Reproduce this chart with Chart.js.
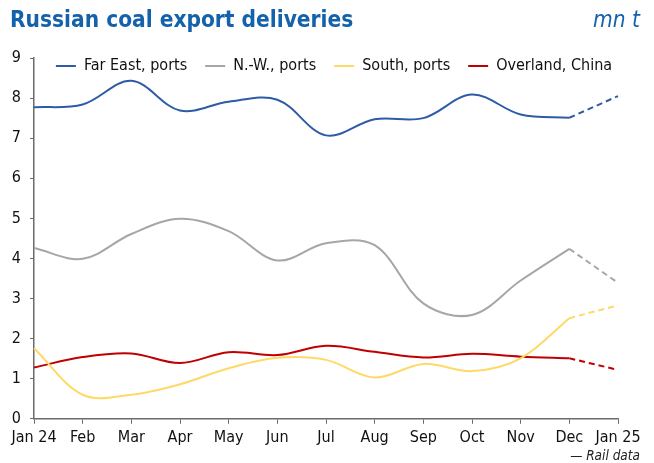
<!DOCTYPE html>
<html lang="en">
  <head>
    <meta charset="UTF-8" />
    <title>Russian coal export deliveries</title>
    <style>
      body,
      html {
        margin: 0;
        background: #fff;
      }
      .wrap {
        position: relative;
        width: 654px;
        height: 463px;
        font-family: "DejaVu Sans Condensed", "DejaVu Sans", sans-serif;
      }
      .title {
        position: absolute;
        left: 10px;
        top: 6px;
        font-size: 22.5px;
        font-weight: bold;
        color: #1462ac;
      }
      .unit {
        position: absolute;
        right: 14px;
        top: 6px;
        font-size: 22.5px;
        font-style: italic;
        color: #1462ac;
      }
      .source {
        position: absolute;
        right: 14px;
        top: 447px;
        font-size: 13.5px;
        font-style: italic;
        color: #222;
      }
      canvas {
        position: absolute;
        left: 0;
        top: 0;
      }
    </style>
  </head>
  <body>
    <div class="wrap">
      <canvas id="myChart" width="654" height="463"></canvas>
      <div class="title">Russian coal export deliveries</div>
      <div class="unit">mn t</div>
      <div class="source">— Rail data</div>
    </div>

    <script src="https://cdn.jsdelivr.net/npm/chart.js"></script>

    <script>
      // Meses (Jan 24 .. Jan 25)
      const months = ["Jan 24", "Feb", "Mar", "Apr", "May", "Jun", "Jul", "Aug", "Sep", "Oct", "Nov", "Dec", "Jan 25"];

      // Séries, mn t
      const farEast = [7.77, 7.84, 8.43, 7.69, 7.91, 7.96, 7.07, 7.47, 7.5, 8.09, 7.59, 7.51, 8.05];
      const northWest = [4.26, 3.99, 4.61, 4.99, 4.68, 3.95, 4.38, 4.33, 2.88, 2.59, 3.45, 4.24, 3.39];
      const south = [1.76, 0.6, 0.6, 0.86, 1.26, 1.52, 1.47, 1.03, 1.37, 1.19, 1.51, 2.51, 2.83];
      const overland = [1.28, 1.54, 1.63, 1.39, 1.66, 1.59, 1.82, 1.67, 1.53, 1.62, 1.55, 1.51, 1.22];

      const seriesNames = ["Far East, ports", "N.-W., ports", "South, ports", "Overland, China"];
      const seriesColors = ["#2e5ba6", "#a6a6a6", "#ffd966", "#c00000"];
      const allSeries = [farEast, northWest, south, overland];

      // último ponto (Jan 25) tracejado
      const last = months.length - 1;
      const solid = (arr) => arr.map((v, i) => (i < last ? v : null));
      const dashed = (arr) => arr.map((v, i) => (i >= last - 1 ? v : null));

      const datasets = [];
      allSeries.forEach((arr, k) => {
        datasets.push({
          label: seriesNames[k],
          data: solid(arr),
          borderColor: seriesColors[k],
          backgroundColor: seriesColors[k],
          borderWidth: 2,
          pointRadius: 0,
          tension: 0.35,
          fill: false,
        });
      });
      allSeries.forEach((arr, k) => {
        datasets.push({
          label: seriesNames[k] + " (dashed)",
          data: dashed(arr),
          borderColor: seriesColors[k],
          borderWidth: 2,
          borderDash: [6, 4],
          pointRadius: 0,
          tension: 0,
          fill: false,
        });
      });

      const axisColor = "#6b6b6b";
      const tickFont = { family: "'DejaVu Sans Condensed', 'DejaVu Sans', sans-serif", size: 16 };

      // legenda dentro da área do gráfico (desloca a legenda do topo para baixo)
      const legendInside = {
        id: "legendInside",
        afterLayout(chart) {
          const lg = chart.legend;
          const h = lg.height;
          lg.top = chart.chartArea.top - 18;
          lg.bottom = lg.top + h;
          lg.left += 22;
          lg.right += 22;
        },
      };

      const ctx = document.getElementById("myChart").getContext("2d");
      const myChart = new Chart(ctx, {
        type: "line",
        data: { labels: months, datasets: datasets },
        plugins: [legendInside],
        options: {
          responsive: false,
          animation: false,
          layout: { padding: { left: 6, right: 36, top: 14, bottom: 12 } },
          plugins: {
            tooltip: { enabled: false },
            legend: {
              position: "top",
              align: "center",
              labels: {
                filter: (item) => item.datasetIndex < 4,
                usePointStyle: true,
                pointStyle: "line",
                pointStyleWidth: 20,
                color: "#111",
                font: tickFont,
                padding: 18,
              },
            },
          },
          scales: {
            x: {
              offset: false,
              grid: { drawOnChartArea: false, drawTicks: true, tickLength: 5, color: axisColor },
              border: { display: true, color: axisColor, width: 1.5 },
              ticks: { color: "#111", font: tickFont, maxRotation: 0, autoSkip: false, padding: 4 },
            },
            y: {
              min: 0,
              max: 9,
              grid: { drawOnChartArea: false, drawTicks: true, tickLength: 4, color: axisColor },
              border: { display: true, color: axisColor, width: 1.5 },
              ticks: { stepSize: 1, color: "#111", font: tickFont, padding: 9 },
              afterFit: (scale) => {
                scale.width = 28;
              },
            },
          },
        },
      });
    </script>
  </body>
</html>
